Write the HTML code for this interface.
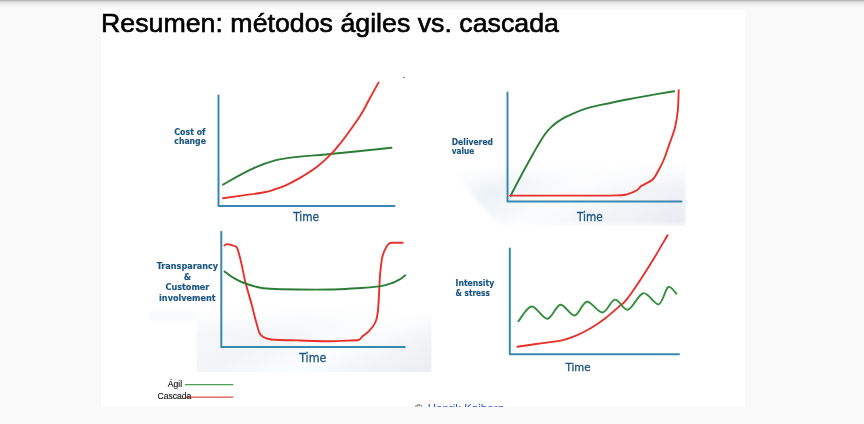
<!DOCTYPE html>
<html><head><meta charset="utf-8"><style>
html,body{margin:0;padding:0;}
body{width:864px;height:424px;overflow:hidden;position:relative;background:#f9f9f9;font-family:"Liberation Sans",Arial,sans-serif;}
.topbar{position:absolute;left:0;top:0;width:864px;height:8px;background:linear-gradient(to bottom,#a8a8a8 0px,#c9c9c9 1px,#dcdcdc 2px,#e6e6e6 3px,#ececec 4px,#f1f1f1 5px,#f6f6f6 6px,#f9f9f9 8px);}
.slide{position:absolute;left:101px;top:10px;width:644px;height:397px;background:#fff;overflow:hidden;}
svg{position:absolute;left:0;top:0;}
</style></head><body>
<div class="topbar"></div>
<div class="slide"></div>
<svg width="864" height="424" viewBox="0 0 864 424">
<defs><clipPath id="sc"><rect x="101" y="10" width="644" height="397"/></clipPath></defs>
<text x="101.0" y="32.3" font-family="Liberation Sans, Arial, sans-serif" font-size="26.6" fill="#000" stroke="#000" stroke-width="0.6" textLength="458" lengthAdjust="spacingAndGlyphs">Resumen: métodos ágiles vs. cascada</text>
<defs>
<linearGradient id="g2" gradientUnits="userSpaceOnUse" x1="455" y1="165" x2="558.7" y2="315.9"><stop offset="0" stop-color="#eef3f8" stop-opacity="0"/><stop offset="0.235" stop-color="#edf2f7"/><stop offset="0.47" stop-color="#fbfcfd"/><stop offset="0.79" stop-color="#eff2f6"/><stop offset="1" stop-color="#e6e9ee"/></linearGradient>
<linearGradient id="g3" gradientUnits="userSpaceOnUse" x1="196" y1="316" x2="271.3" y2="459.7"><stop offset="0" stop-color="#f7f8fa"/><stop offset="0.337" stop-color="#f2f4f7"/><stop offset="0.583" stop-color="#fcfdfe"/><stop offset="0.772" stop-color="#f2f4f6"/><stop offset="1" stop-color="#eaedf0"/></linearGradient>
<linearGradient id="mv" x1="0" y1="0" x2="0" y2="1"><stop offset="0" stop-color="#fff" stop-opacity="0"/><stop offset="0.45" stop-color="#fff" stop-opacity="1"/><stop offset="1" stop-color="#fff" stop-opacity="1"/></linearGradient>
<filter id="bl" x="-0.1" y="-0.1" width="1.2" height="1.2"><feGaussianBlur stdDeviation="2.5"/></filter>
<mask id="m2" maskUnits="userSpaceOnUse" x="440" y="150" width="260" height="80"><rect x="440" y="160" width="246" height="66" fill="url(#mv)"/></mask>
<mask id="m3" maskUnits="userSpaceOnUse" x="140" y="300" width="300" height="80"><rect x="140" y="306" width="300" height="67" fill="url(#mv)"/></mask>
</defs>
<g mask="url(#m2)"><polygon points="452,170 686,160 686,225 499,225" fill="url(#g2)" filter="url(#bl)"/></g>
<rect x="196.5" y="306" width="235" height="66" fill="url(#g3)" mask="url(#m3)"/>
<rect x="149" y="311.5" width="47.5" height="9" fill="#f8f9fa"/>
<path d="M218.5,95.5 L218.5,205.9 L394.5,205.9" fill="none" stroke="#3a87b1" stroke-width="2" stroke-linecap="round" stroke-linejoin="round"/>
<path d="M507.5,92.4 L507.5,201.6 L681.5,201.6" fill="none" stroke="#3a87b1" stroke-width="2" stroke-linecap="round" stroke-linejoin="round"/>
<path d="M221.3,231.8 L221.3,346.9 L404.8,346.9" fill="none" stroke="#3a87b1" stroke-width="2" stroke-linecap="round" stroke-linejoin="round"/>
<path d="M509.8,248.4 L509.8,354.3 L679,354.3" fill="none" stroke="#3a87b1" stroke-width="2" stroke-linecap="round" stroke-linejoin="round"/>
<path d="M223.0,184.6 C227.5,182.1 241.2,173.9 250.0,169.8 C258.8,165.7 267.7,162.4 276.0,160.2 C284.3,158.0 291.3,157.6 300.0,156.6 C308.7,155.6 312.7,155.7 328.0,154.2 C343.3,152.7 381.0,148.9 391.6,147.8" fill="none" stroke="#2c7d37" stroke-width="1.9" stroke-linecap="round" stroke-linejoin="round"/>
<path d="M223.0,198.2 C226.4,197.7 236.4,196.4 243.3,195.4 C250.2,194.4 259.3,193.3 264.5,192.3 C269.7,191.3 270.9,190.7 274.4,189.5 C277.9,188.3 281.4,187.2 285.7,185.3 C290.0,183.4 294.6,181.1 300.0,177.9 C305.4,174.7 312.8,170.1 318.0,166.0 C323.2,161.9 327.3,157.9 331.5,153.6 C335.7,149.3 339.9,143.9 343.0,140.0 C346.1,136.1 347.3,134.2 350.3,130.0 C353.3,125.8 357.7,119.8 361.0,114.5 C364.3,109.2 367.1,103.3 370.0,98.0 C372.9,92.7 377.2,85.0 378.6,82.4" fill="none" stroke="#e8302a" stroke-width="1.9" stroke-linecap="round" stroke-linejoin="round"/>
<path d="M510.5,196.0 C512.4,192.3 518.2,181.1 522.0,174.0 C525.8,166.9 529.6,159.8 533.3,153.4 C537.0,147.0 541.2,139.7 544.2,135.3 C547.2,130.9 548.9,129.4 551.2,127.1 C553.6,124.8 555.9,123.1 558.3,121.4 C560.7,119.8 563.0,118.5 565.4,117.2 C567.8,115.9 569.0,115.3 572.5,113.8 C576.0,112.3 581.9,109.9 586.6,108.4 C591.3,106.9 593.8,106.4 600.8,104.9 C607.8,103.4 619.0,101.0 628.3,99.2 C637.6,97.4 649.0,95.4 656.6,94.1 C664.2,92.8 671.3,91.7 674.2,91.2" fill="none" stroke="#2c7d37" stroke-width="1.9" stroke-linecap="round" stroke-linejoin="round"/>
<path d="M510.0,195.6 C518.3,195.6 542.2,195.6 560.0,195.6 C577.8,195.6 605.4,195.8 617.0,195.4 C628.6,195.0 626.4,194.2 629.7,193.4 C633.0,192.6 634.9,191.5 636.8,190.3 C638.7,189.1 639.8,187.2 641.0,186.3 C642.2,185.4 642.0,185.7 643.9,184.6 C645.8,183.5 650.0,182.0 652.4,179.8 C654.8,177.6 656.1,174.6 658.0,171.3 C659.9,168.0 661.8,164.5 663.7,160.0 C665.6,155.5 667.4,149.8 669.3,144.4 C671.2,139.0 673.6,133.2 675.0,127.5 C676.4,121.8 677.2,116.7 677.8,110.5 C678.4,104.3 678.6,93.5 678.7,90.1" fill="none" stroke="#e8302a" stroke-width="1.9" stroke-linecap="round" stroke-linejoin="round"/>
<path d="M224.5,245.4 C224.8,245.3 225.9,244.0 227.1,244.1 C228.3,244.2 235.0,245.8 236.2,246.7 C237.4,247.6 238.3,251.5 238.8,253.2 C239.3,254.9 240.8,260.7 241.4,263.6 C242.1,266.5 244.3,277.7 245.3,281.8 C246.3,285.9 250.4,300.0 251.8,305.1 C253.2,310.2 257.8,329.8 259.6,333.2 C261.4,336.6 266.2,338.5 270.0,339.2 C273.8,339.9 292.2,340.2 298.0,340.4 C303.8,340.6 323.3,341.3 328.0,341.3 C332.7,341.3 341.9,340.8 345.0,340.7 C348.1,340.6 356.9,340.4 358.6,340.0 C360.4,339.6 361.5,337.2 362.5,336.3 C363.5,335.4 367.7,332.5 369.0,331.1 C370.3,329.7 374.6,324.1 375.5,322.0 C376.4,319.9 377.6,313.8 378.0,310.3 C378.4,306.8 379.2,290.6 379.4,287.0 C379.6,283.4 379.8,276.9 380.1,274.0 C380.4,271.1 381.6,260.7 382.0,258.4 C382.4,256.1 383.9,252.0 384.5,250.6 C385.1,249.2 387.6,244.9 388.4,244.1 C389.2,243.3 390.9,242.9 392.3,242.8 C393.7,242.7 401.7,242.8 402.7,242.8" fill="none" stroke="#e8302a" stroke-width="1.9" stroke-linecap="round" stroke-linejoin="round"/>
<path d="M224.5,271.4 C226.0,272.5 230.3,276.0 233.6,277.9 C236.8,279.8 240.1,281.5 244.0,283.0 C247.9,284.5 252.7,286.0 257.0,287.0 C261.3,288.0 263.2,288.4 270.0,288.8 C276.8,289.2 288.0,289.4 298.0,289.5 C308.0,289.6 320.3,289.7 330.0,289.5 C339.7,289.3 347.8,288.7 356.0,288.2 C364.2,287.7 373.3,287.3 379.4,286.4 C385.4,285.5 388.9,284.2 392.3,283.0 C395.8,281.8 397.9,280.5 400.1,279.2 C402.3,277.9 404.4,275.9 405.3,275.3" fill="none" stroke="#2c7d37" stroke-width="1.9" stroke-linecap="round" stroke-linejoin="round"/>
<path d="M517.4,346.8 C520.8,346.3 530.5,344.8 537.7,343.8 C544.9,342.8 554.1,341.9 560.4,340.6 C566.7,339.3 570.5,337.9 575.5,335.8 C580.5,333.8 585.6,331.3 590.6,328.3 C595.6,325.3 601.0,321.6 605.7,318.0 C610.4,314.4 615.6,309.5 618.9,306.6 C622.2,303.7 622.2,305.0 625.7,300.7 C629.2,296.4 635.1,287.8 639.8,280.7 C644.5,273.6 649.4,265.9 654.0,258.3 C658.6,250.7 665.3,239.0 667.6,235.2" fill="none" stroke="#e8302a" stroke-width="1.9" stroke-linecap="round" stroke-linejoin="round"/>
<path d="M518.4,321.2 C520.6,318.8 526.8,306.9 531.6,306.5 C536.4,306.1 542.6,319.1 547.4,318.8 C552.2,318.5 555.9,305.2 560.4,304.7 C564.9,304.1 570.2,316.0 574.6,315.5 C579.0,315.0 582.4,302.3 587.0,301.8 C591.6,301.3 597.8,312.9 602.5,312.5 C607.2,312.1 610.8,300.1 615.0,299.6 C619.2,299.1 623.3,310.8 628.0,309.7 C632.7,308.6 638.2,294.1 643.3,293.2 C648.4,292.3 654.6,305.3 658.7,304.3 C662.8,303.3 665.2,288.9 668.1,287.1 C671.0,285.3 675.0,292.6 676.4,293.7" fill="none" stroke="#338f3d" stroke-width="1.9" stroke-linecap="round" stroke-linejoin="round"/>
<circle cx="403.8" cy="77.4" r="0.7" fill="#555"/>
<text font-family="DejaVu Sans Condensed, DejaVu Sans, sans-serif" font-weight="bold" fill="#1a5680" stroke="#1a5680" stroke-width="0.15" lengthAdjust="spacingAndGlyphs" font-size="9" x="174.3" y="135" textLength="31.2" text-anchor="start">Cost of</text>
<text font-family="DejaVu Sans Condensed, DejaVu Sans, sans-serif" font-weight="bold" fill="#1a5680" stroke="#1a5680" stroke-width="0.15" lengthAdjust="spacingAndGlyphs" font-size="9" x="174.3" y="144.4" textLength="31.6" text-anchor="start">change</text>
<text font-family="DejaVu Sans Condensed, DejaVu Sans, sans-serif" font-weight="bold" fill="#1a5680" stroke="#1a5680" stroke-width="0.15" lengthAdjust="spacingAndGlyphs" font-size="9.2" x="451.8" y="145.2" textLength="41.2" text-anchor="start">Delivered</text>
<text font-family="DejaVu Sans Condensed, DejaVu Sans, sans-serif" font-weight="bold" fill="#1a5680" stroke="#1a5680" stroke-width="0.15" lengthAdjust="spacingAndGlyphs" font-size="9.2" x="451.8" y="154.4" textLength="22.5" text-anchor="start">value</text>
<text font-family="DejaVu Sans Condensed, DejaVu Sans, sans-serif" font-weight="bold" fill="#1a5680" stroke="#1a5680" stroke-width="0.15" lengthAdjust="spacingAndGlyphs" font-size="9" x="187.4" y="269.1" textLength="61.2" text-anchor="middle">Transparancy</text>
<text font-family="DejaVu Sans Condensed, DejaVu Sans, sans-serif" font-weight="bold" fill="#1a5680" stroke="#1a5680" stroke-width="0.15" lengthAdjust="spacingAndGlyphs" font-size="9" x="187.4" y="279.7" textLength="7.3" text-anchor="middle">&amp;</text>
<text font-family="DejaVu Sans Condensed, DejaVu Sans, sans-serif" font-weight="bold" fill="#1a5680" stroke="#1a5680" stroke-width="0.15" lengthAdjust="spacingAndGlyphs" font-size="9" x="187.4" y="290" textLength="43.8" text-anchor="middle">Customer</text>
<text font-family="DejaVu Sans Condensed, DejaVu Sans, sans-serif" font-weight="bold" fill="#1a5680" stroke="#1a5680" stroke-width="0.15" lengthAdjust="spacingAndGlyphs" font-size="9" x="187.4" y="301" textLength="56.6" text-anchor="middle">involvement</text>
<text font-family="DejaVu Sans Condensed, DejaVu Sans, sans-serif" font-weight="bold" fill="#1a5680" stroke="#1a5680" stroke-width="0.15" lengthAdjust="spacingAndGlyphs" font-size="9" x="455.6" y="285.9" textLength="38.6" text-anchor="start">Intensity</text>
<text font-family="DejaVu Sans Condensed, DejaVu Sans, sans-serif" font-weight="bold" fill="#1a5680" stroke="#1a5680" stroke-width="0.15" lengthAdjust="spacingAndGlyphs" font-size="9" x="455.6" y="295.6" textLength="34.2" text-anchor="start">&amp; stress</text>
<text font-family="DejaVu Sans Condensed, DejaVu Sans, sans-serif" fill="#1a5680" stroke="#1a5680" stroke-width="0.3" lengthAdjust="spacingAndGlyphs" font-size="11.7" x="293.2" y="220.5" textLength="25.9">Time</text>
<text font-family="DejaVu Sans Condensed, DejaVu Sans, sans-serif" fill="#1a5680" stroke="#1a5680" stroke-width="0.3" lengthAdjust="spacingAndGlyphs" font-size="11.8" x="577.0" y="220.6" textLength="25.7">Time</text>
<text font-family="DejaVu Sans Condensed, DejaVu Sans, sans-serif" fill="#1a5680" stroke="#1a5680" stroke-width="0.3" lengthAdjust="spacingAndGlyphs" font-size="12.5" x="299.2" y="362.0" textLength="27.2">Time</text>
<text font-family="DejaVu Sans Condensed, DejaVu Sans, sans-serif" fill="#1a5680" stroke="#1a5680" stroke-width="0.3" lengthAdjust="spacingAndGlyphs" font-size="11.0" x="565.6" y="371.3" textLength="25.0">Time</text>
<text font-family="Liberation Sans, sans-serif" font-size="8.6" fill="#1a1a1a" stroke="#1a1a1a" stroke-width="0.15" text-anchor="end" x="182.2" y="386.7">Ágil</text>
<line x1="185" y1="384.7" x2="233.3" y2="384.7" stroke="#4f9d52" stroke-width="1.3"/>
<line x1="185.4" y1="397.1" x2="233.3" y2="397.1" stroke="#df4f4a" stroke-width="1.3"/>
<text font-family="Liberation Sans, sans-serif" font-size="8.6" fill="#1a1a1a" stroke="#1a1a1a" stroke-width="0.15" text-anchor="end" x="191.4" y="399.2">Cascada</text>
<g clip-path="url(#sc)"><text x="414.6" y="412.3" font-family="Liberation Sans, sans-serif" font-size="11.3" fill="#666">©</text><text x="427.8" y="412.3" font-family="Liberation Sans, sans-serif" font-size="11.5" fill="#1f4fe0" text-decoration="underline">Henrik Kniberg</text></g>
</svg>
</body></html>
